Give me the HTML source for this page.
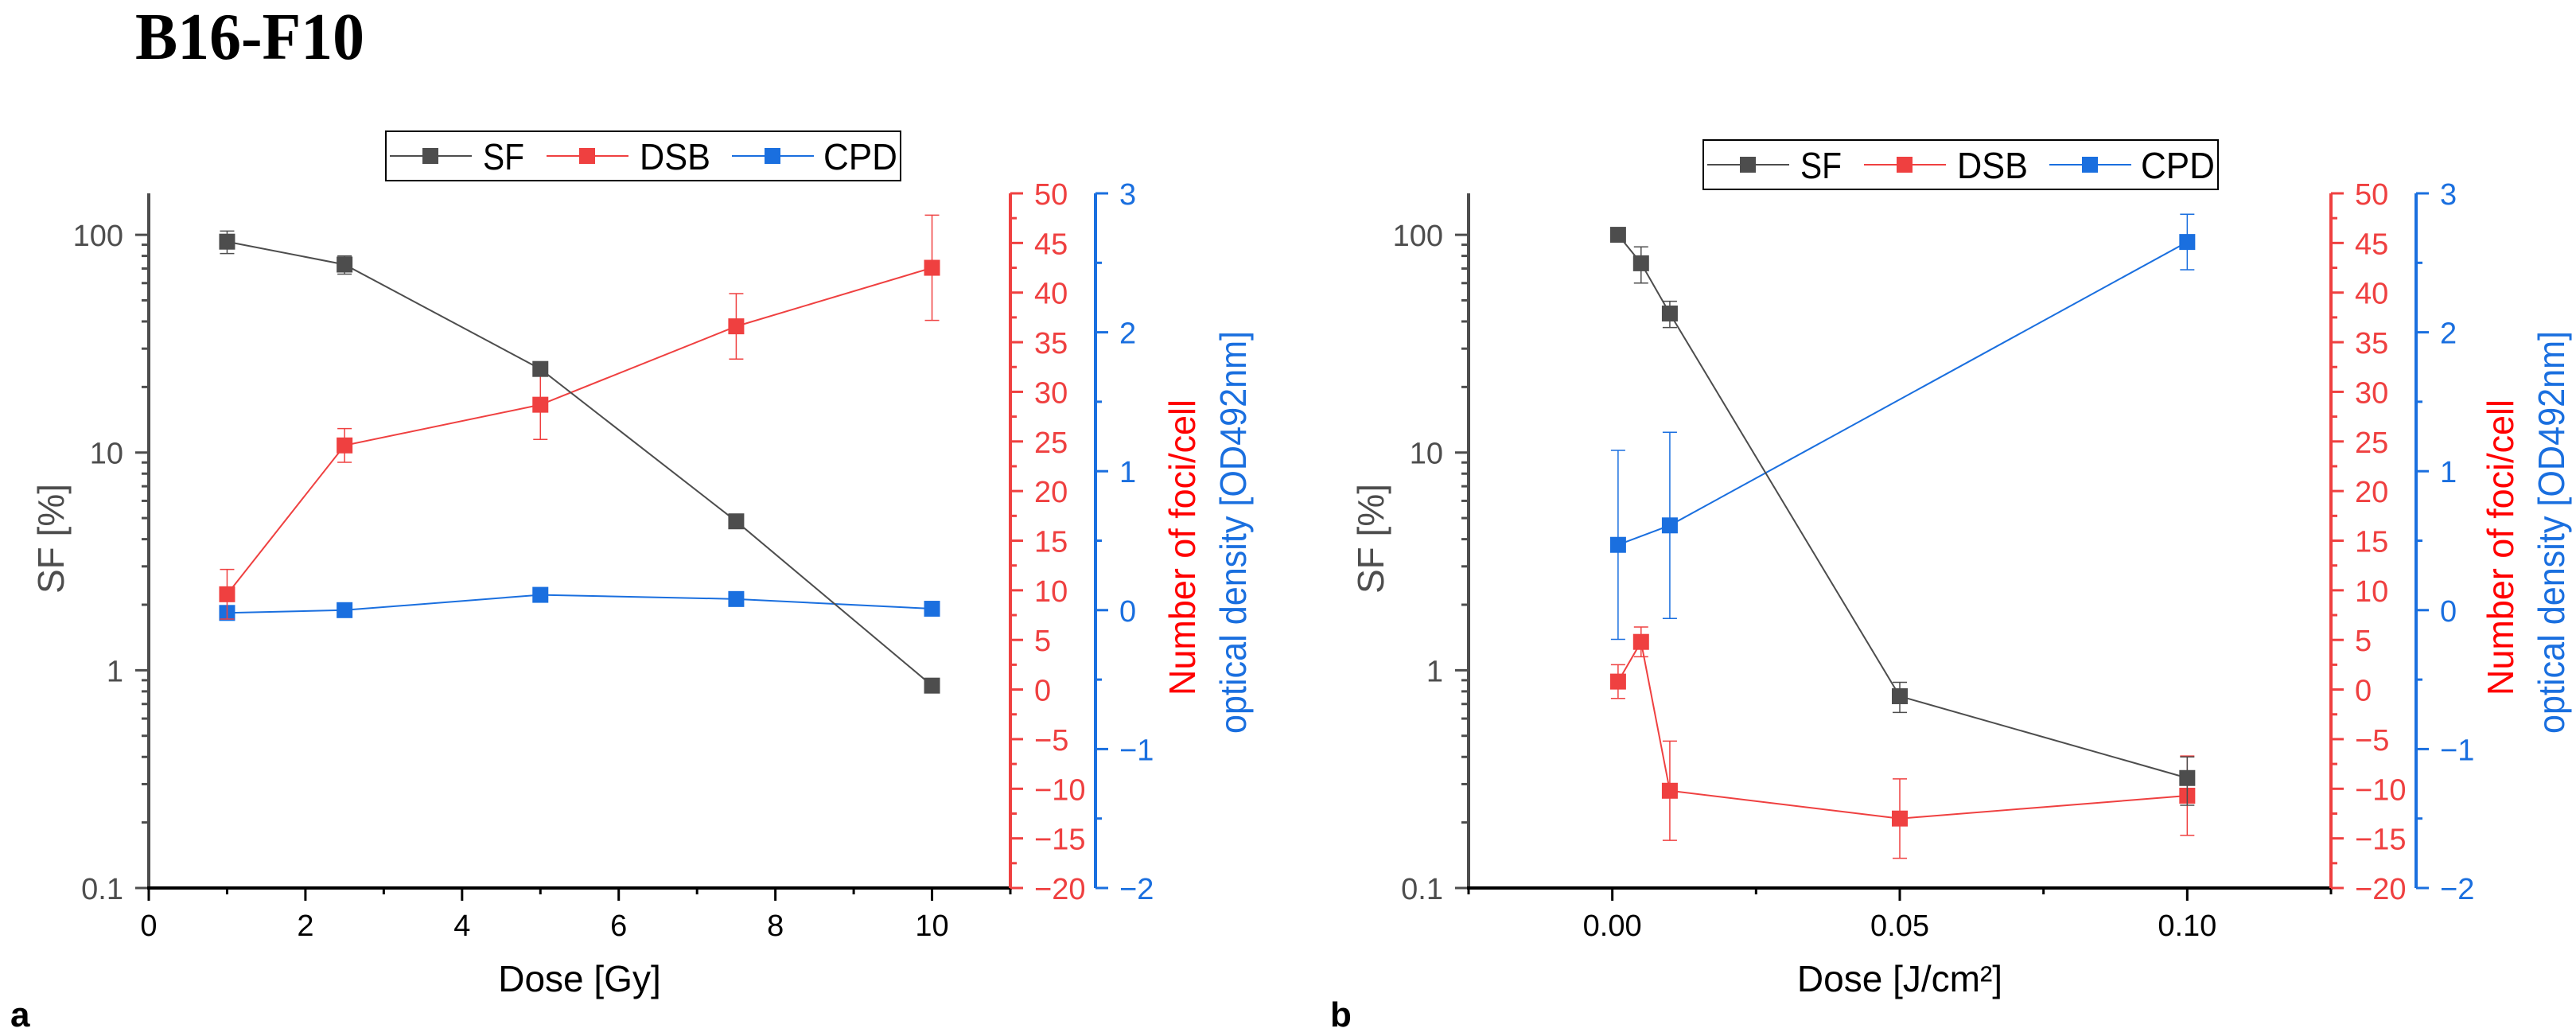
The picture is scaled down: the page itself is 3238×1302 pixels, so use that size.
<!DOCTYPE html>
<html><head><meta charset="utf-8"><style>
html,body{margin:0;padding:0;background:#fff;}
svg{display:block;}
text{font-family:"Liberation Sans",sans-serif;}
</style></head><body>
<svg id="fig" width="3238" height="1302" viewBox="0 0 3238 1302" xmlns="http://www.w3.org/2000/svg">
<text x="170" y="74" font-family="Liberation Serif, serif" font-weight="bold" font-size="84" textLength="288" lengthAdjust="spacingAndGlyphs" style="font-family:'Liberation Serif',serif">B16-F10</text>
<text x="13" y="1290" font-weight="bold" font-size="44">a</text>
<text x="1672" y="1290" font-weight="bold" font-size="44">b</text>
</svg>
<script>
// Panel a data
const aDose = [1, 2.5, 5, 7.5, 10];
const aSF = [93, 73, 24.2, 4.83, 0.85];
const aSFerr = [11, 7, 1.2, 0.3, 0.04];
const aDSB = [9.6, 24.6, 28.7, 36.6, 42.5];
const aDSBerr = [2.5, 1.7, 3.5, 3.3, 5.3];
const aCPD = [-0.02, 0.0, 0.11, 0.08, 0.01];
const aCPDerr = [0.01, 0.01, 0.01, 0.01, 0.01];
const aXTicks = [0, 2, 4, 6, 8, 10];
const aXTickLabels = ["0", "2", "4", "6", "8", "10"];
// Panel b data
const bDose = [0.001, 0.005, 0.01, 0.05, 0.1];
const bSF = [100, 74, 43.5, 0.76, 0.32];
const bSFerr = [1, 14, 6, 0.12, 0.08];
const bDSB = [0.8, 4.8, -10.2, -13.0, -10.7];
const bDSBerr = [1.7, 1.5, 5, 4, 4];
const bCPDDose = [0.001, 0.01, 0.1];
const bCPD = [0.47, 0.61, 2.65];
const bCPDerr = [0.68, 0.67, 0.2];
const bXTicks = [0, 0.05, 0.1];
const bXTickLabels = ["0.00", "0.05", "0.10"];
// shared axes
const sfTicks = [0.1, 1, 10, 100];
const sfTickLabels = ["0.1", "1", "10", "100"];
const dsbTicks = [-20, -15, -10, -5, 0, 5, 10, 15, 20, 25, 30, 35, 40, 45, 50];
const dsbTickLabels = ["\u221220","\u221215","\u221210","\u22125","0","5","10","15","20","25","30","35","40","45","50"];
const cpdTicks = [-2, -1, 0, 1, 2, 3];
const cpdTickLabels = ["\u22122","\u22121","0","1","2","3"];

const NS = "http://www.w3.org/2000/svg";
const svg = document.getElementById('fig');
const C_SF = "#4d4d4d", C_DSB = "#ef4040", C_CPD = "#1a6fdf";
function mk(tag, attrs, parent) {
  const e = document.createElementNS(NS, tag);
  for (const k in attrs) e.setAttribute(k, attrs[k]);
  (parent || svg).appendChild(e);
  return e;
}
const TOP = 243, BOT = 1116;

function panel(p) {
  const g = mk('g', {});
  
  
  const X = v => p.left + (v - p.xmin) / (p.xmax - p.xmin) * (p.right - p.left);
  const LMIN = Math.log10(0.1), LMAX = Math.log10(155);
  const YS = v => BOT - (Math.log10(v) - LMIN) / (LMAX - LMIN) * (BOT - TOP);
  const YD = v => BOT - (v + 20) / 70 * (BOT - TOP);
  const YC = v => BOT - (v + 2) / 5 * (BOT - TOP);

  // left axis
  const la = mk('line', {x1: p.left, y1: TOP, x2: p.left, y2: BOT + 2, stroke: C_SF, 'stroke-width': 4}, g);
  
  
  for (let d = 0.1; d < 200; d *= 10) {
    for (let m = 1; m < 10; m++) {
      const v = d * m; if (v > 155) break;
      const major = m === 1;
      mk('line', {x1: p.left - (major ? 17 : 9), y1: YS(v), x2: p.left, y2: YS(v), stroke: C_SF, 'stroke-width': 3}, g);
    }
  }
  sfTicks.forEach((v, i) => {
    const t = mk('text', {x: p.left - 32, y: YS(v) + 14, 'text-anchor': 'end', 'font-size': 38, fill: C_SF}, g);
    
    
    t.textContent = sfTickLabels[i];
  });
  const st = mk('text', {x: 0, y: 0, 'text-anchor': 'middle', 'font-size': 46, fill: C_SF, transform: `translate(${p.sfTitleX},677) rotate(-90)`}, g);
  
  
  st.textContent = 'SF [%]';

  // bottom axis
  const ba = mk('line', {x1: p.left - 2, y1: BOT, x2: p.right + 2, y2: BOT, stroke: '#000', 'stroke-width': 4}, g);
  
  
  for (let v = p.xmin; v <= p.xmax + 1e-9; v += p.minor) {
    const major = p.xTicks.some(t => Math.abs(t - v) < 1e-9);
    mk('line', {x1: X(v), y1: BOT, x2: X(v), y2: BOT + (major ? 16 : 8), stroke: '#000', 'stroke-width': 3}, g);
  }
  p.xTicks.forEach((v, i) => {
    const t = mk('text', {x: X(v), y: 1176, 'text-anchor': 'middle', 'font-size': 38, fill: '#000'}, g);
    
    
    t.textContent = p.xLabels[i];
  });
  const xt = mk('text', {x: (p.left + p.right) / 2, y: 1246, 'text-anchor': 'middle', 'font-size': 46, fill: '#000'}, g);
  
  
  xt.innerHTML = p.xTitle;

  // red axis
  const ra = mk('line', {x1: p.right, y1: TOP, x2: p.right, y2: BOT, stroke: C_DSB, 'stroke-width': 4}, g);
  
  
  for (let v = -20; v <= 50; v += 2.5) {
    const major = v % 5 === 0;
    mk('line', {x1: p.right, y1: YD(v), x2: p.right + (major ? 16 : 8), y2: YD(v), stroke: C_DSB, 'stroke-width': 3}, g);
  }
  dsbTicks.forEach((v, i) => {
    const t = mk('text', {x: p.right + 30, y: YD(v) + 14, 'font-size': 38, fill: C_DSB}, g);
    
    
    t.textContent = dsbTickLabels[i];
  });
  const rt = mk('text', {x: 0, y: 0, 'text-anchor': 'middle', 'font-size': 46, fill: '#ff0000', textLength: 372, lengthAdjust: 'spacingAndGlyphs', transform: `translate(${p.redTitleX},688) rotate(-90)`}, g);
  
  
  rt.textContent = 'Number of foci/cell';

  // blue axis
  const bx = p.right + 107;
  const cb = mk('line', {x1: bx, y1: TOP, x2: bx, y2: BOT, stroke: C_CPD, 'stroke-width': 4}, g);
  
  
  for (let v = -2; v <= 3; v += 0.5) {
    const major = Math.abs(v - Math.round(v)) < 1e-9;
    mk('line', {x1: bx, y1: YC(v), x2: bx + (major ? 16 : 8), y2: YC(v), stroke: C_CPD, 'stroke-width': 3}, g);
  }
  cpdTicks.forEach((v, i) => {
    const t = mk('text', {x: bx + 30, y: YC(v) + 14, 'font-size': 38, fill: C_CPD}, g);
    
    
    t.textContent = cpdTickLabels[i];
  });
  const btt = mk('text', {x: 0, y: 0, 'text-anchor': 'middle', 'font-size': 46, fill: C_CPD, textLength: 506, lengthAdjust: 'spacingAndGlyphs', transform: `translate(${p.blueTitleX},669) rotate(-90)`}, g);
  
  
  btt.textContent = 'optical density [OD492nm]';

  function series(name, xs, ys, es, Y, color) {
    const sg = mk('g', {}, g);
    
    
    mk('polyline', {points: xs.map((x, i) => X(x) + ',' + Y(ys[i])).join(' '), fill: 'none', stroke: color, 'stroke-width': 2}, sg);
    xs.forEach((x, i) => {
      const y1 = Y(ys[i] + es[i]), y2 = Y(Math.max(ys[i] - es[i], name === 'sf' ? 0.0101 : -1e9));
      const cx = X(x);
      mk('line', {x1: cx, y1: y1, x2: cx, y2: y2, stroke: color, 'stroke-width': 1.5}, sg);
      mk('line', {x1: cx - 9, y1: y1, x2: cx + 9, y2: y1, stroke: color, 'stroke-width': 1.5}, sg);
      mk('line', {x1: cx - 9, y1: y2, x2: cx + 9, y2: y2, stroke: color, 'stroke-width': 1.5}, sg);
    });
    xs.forEach((x, i) => {
      const r = mk('rect', {x: X(x) - 10, y: Y(ys[i]) - 10, width: 20, height: 20, fill: color}, sg);
      
      
    });
  }
  series('cpd', p.cpdX, p.cpd, p.cpdErr, YC, C_CPD);
  series('dsb', p.dose, p.dsb, p.dsbErr, YD, C_DSB);
  series('sf', p.dose, p.sf, p.sfErr, YS, C_SF);

  // legend
  const lg = mk('g', {}, g);
  
  
  const L = p.legX, LT = p.legY;
  mk('rect', {x: L, y: LT, width: 647, height: 62, fill: '#fff', stroke: '#000', 'stroke-width': 2}, lg);
  const items = [['SF', C_SF, 5, 122, 52], ['DSB', C_DSB, 202, 319, 89], ['CPD', C_CPD, 435, 550, 93]];
  const cy = LT + 31;
  items.forEach(it => {
    const e = mk('g', {}, lg);
    
    
    mk('line', {x1: L + it[2], y1: cy, x2: L + it[2] + 103, y2: cy, stroke: it[1], 'stroke-width': 2}, e);
    mk('rect', {x: L + it[2] + 41, y: cy - 10, width: 20, height: 20, fill: it[1]}, e);
    const t = mk('text', {x: L + it[3], y: cy + 17, 'font-size': 46, fill: '#000', textLength: it[4], lengthAdjust: 'spacingAndGlyphs'}, e);
    t.textContent = it[0];
  });
}

panel({id: 'panel-a', left: 187, right: 1270, xmin: 0, xmax: 11, minor: 1, xTicks: aXTicks, xLabels: aXTickLabels,
  xTitle: 'Dose [Gy]', sfTitleX: 80, redTitleX: 1502, blueTitleX: 1566,
  dose: aDose, sf: aSF, sfErr: aSFerr, dsb: aDSB, dsbErr: aDSBerr, cpdX: aDose, cpd: aCPD, cpdErr: aCPDerr,
  legX: 485, legY: 165});
panel({id: 'panel-b', left: 1846, right: 2930, xmin: -0.025, xmax: 0.125, minor: 0.025, xTicks: bXTicks, xLabels: bXTickLabels,
  xTitle: 'Dose [J/cm\u00B2]', sfTitleX: 1739, redTitleX: 3159, blueTitleX: 3223,
  dose: bDose, sf: bSF, sfErr: bSFerr, dsb: bDSB, dsbErr: bDSBerr, cpdX: bCPDDose, cpd: bCPD, cpdErr: bCPDerr,
  legX: 2141, legY: 176});
</script>
</body></html>
